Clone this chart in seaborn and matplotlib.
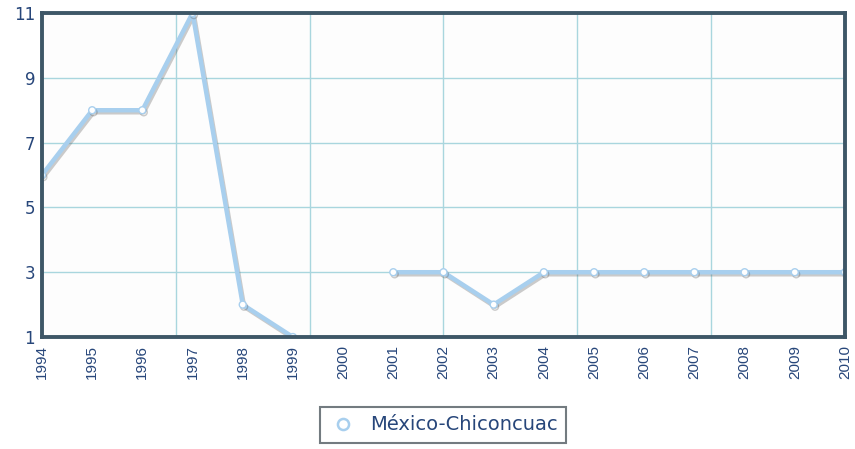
import numpy as np
import pandas as pd
import matplotlib
matplotlib.use("Agg")
import matplotlib.pyplot as plt
import matplotlib.patheffects as pe
from matplotlib.lines import Line2D
import seaborn as sns

years = [1994, 1995, 1996, 1997, 1998, 1999, 2000, 2001, 2002, 2003, 2004,
         2005, 2006, 2007, 2008, 2009, 2010]
values = [6, 8, 8, 11, 2, 1, np.nan, 3, 3, 2, 3, 3, 3, 3, 3, 3, 3]
series_name = "México-Chiconcuac"
y_ticks = [1, 3, 5, 7, 9, 11]

df = pd.DataFrame({"year": years, "value": values})
df["segment"] = df["value"].isna().cumsum()
df = df.dropna()

sns.set_style("white")
plt.rcParams["font.family"] = ["DejaVu Sans"]

line_color = "#a8cfee"
frame_color = "#3e5767"
grid_color = "#a9d6de"
text_color = "#27467a"

fig = plt.figure(figsize=(8.55, 4.49), dpi=100)
ax = fig.add_axes([0.0491, 0.2494, 0.9392, 0.7216])
ax.set_facecolor("#fdfdfd")

sns.lineplot(data=df, x="year", y="value", units="segment", estimator=None,
             color=line_color, linewidth=3.2, marker="o", markersize=5,
             markerfacecolor="white", markeredgecolor=line_color,
             markeredgewidth=1.0, ax=ax, zorder=3,
             path_effects=[pe.SimpleLineShadow(offset=(1.0, -1.5),
                                               shadow_color="#555555", alpha=0.3),
                           pe.Normal()])

ax.set_xlim(years[0], years[-1])
ax.set_ylim(y_ticks[0], y_ticks[-1])
ax.set_xticks(years)
ax.set_xticklabels([str(y) for y in years], rotation=90, fontsize=11,
                   color=text_color, family=["Liberation Sans", "DejaVu Sans"])
ax.set_yticks(y_ticks)
ax.set_yticklabels([str(v) for v in y_ticks], fontsize=12, color=text_color)
ax.tick_params(axis="x", which="both", length=0, pad=6)
ax.tick_params(axis="y", which="both", length=0, pad=5)
ax.grid(False)
for xv in np.linspace(years[0], years[-1], 7)[1:-1]:
    ax.axvline(xv, color=grid_color, linewidth=1, zorder=1)
ax.grid(True, axis="y", which="major", color=grid_color, linewidth=1)
ax.set_axisbelow(True)
ax.set_xlabel("")
ax.set_ylabel("")
for s in ax.spines.values():
    s.set_visible(True)
    s.set_color(frame_color)
    s.set_linewidth(2.8)
    s.set_zorder(5)

handle = Line2D([], [], linestyle="none", marker="o", markersize=8,
                markerfacecolor="white", markeredgecolor=line_color,
                markeredgewidth=1.8)
leg = fig.legend([handle], [series_name], loc="center",
                 bbox_to_anchor=(0.5185, 0.0535), frameon=True, fancybox=False,
                 fontsize=14, handletextpad=0.7, borderpad=0.45,
                 handlelength=1.4, borderaxespad=0)
leg.get_frame().set_edgecolor("#505a60")
leg.get_frame().set_linewidth(1.5)
for t in leg.get_texts():
    t.set_color(text_color)

fig.savefig("out.png", dpi=100)
